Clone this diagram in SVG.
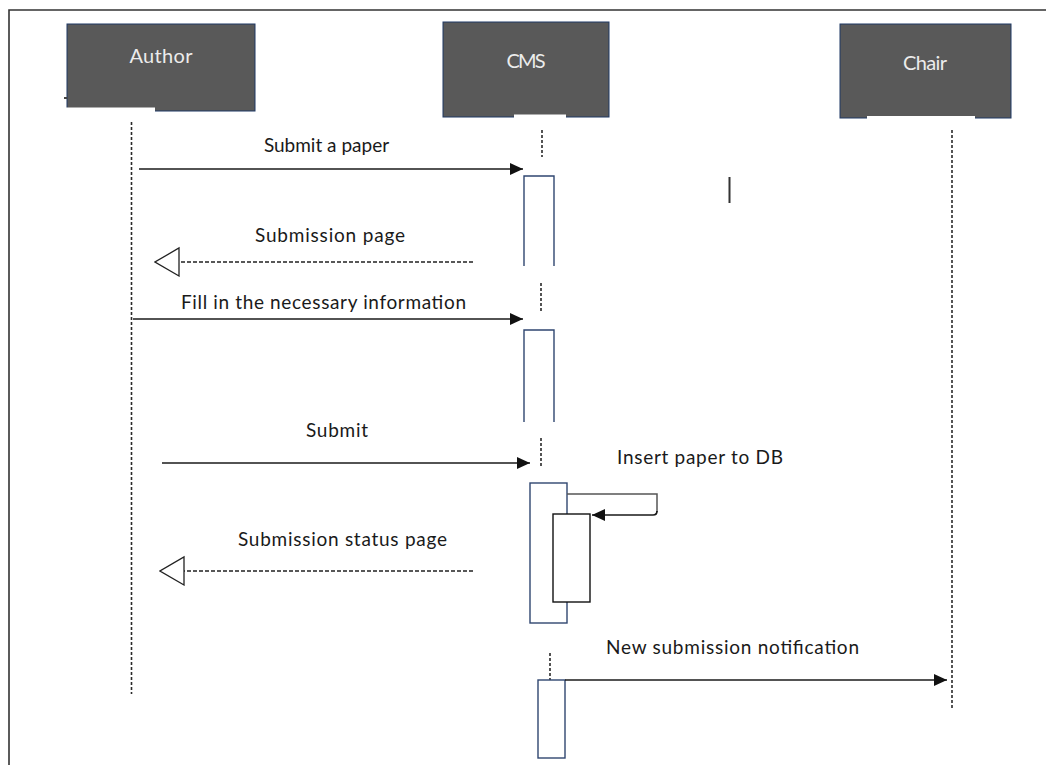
<svg xmlns="http://www.w3.org/2000/svg" width="1046" height="765" viewBox="0 0 1046 765">
  <style>
    .frame{fill:none;stroke:#333;stroke-width:1.6}
    .head{fill:#595959;stroke:#1f3864;stroke-width:1}
    .gap{fill:#fff}
    .htext{font-family:Lato,"Liberation Sans",sans-serif;font-size:20px;fill:#ececec;text-anchor:middle}
    .lbl{font-family:Lato,"Liberation Sans",sans-serif;font-size:19px;fill:#1a1a1a}
    .life{stroke:#2a2a2a;stroke-width:1.6;stroke-dasharray:3 2;fill:none}
    .act{fill:#fff;stroke:#2f4670;stroke-width:1.4}
    .act2{fill:#fff;stroke:#111;stroke-width:1.4}
    .msg{stroke:#1a1a1a;stroke-width:1.7;fill:none;marker-end:url(#solid)}
    .ret{stroke:#222;stroke-width:1.4;stroke-dasharray:4 2;fill:none;marker-end:url(#open)}
  </style>
  <defs>
    <marker id="solid" markerUnits="userSpaceOnUse" markerWidth="13" markerHeight="12" refX="13" refY="6" orient="auto">
      <path d="M0,0 L13,6 L0,12 z" fill="#111"/>
    </marker>
    <marker id="open" markerUnits="userSpaceOnUse" markerWidth="26" markerHeight="31" refX="25" refY="15" orient="auto">
      <path d="M1,1 L25,15 L1,29 z" fill="#fff" stroke="#222" stroke-width="1.3"/>
    </marker>
  </defs>

  <rect width="1046" height="765" fill="#fff"/>
  <!-- outer frame: left and top edges -->
  <path class="frame" d="M9,765 V10 H1046"/>

  <!-- participants -->
  <g id="author">
    <rect class="head" x="67" y="24" width="188" height="87"/>
    <rect class="gap" x="66" y="107.5" width="89" height="5"/>
    <rect x="64" y="97" width="3" height="2" fill="#444"/>
    <text class="htext" x="161" y="63" textLength="63">Author</text>
  </g>
  <g id="cms">
    <rect class="head" x="443" y="22" width="166" height="95"/>
    <rect class="gap" x="514" y="114.5" width="52" height="4"/>
    <text class="htext" x="526" y="68" textLength="39">CMS</text>
  </g>
  <g id="chair">
    <rect class="head" x="840" y="24" width="171" height="94"/>
    <rect class="gap" x="867" y="116" width="108" height="4"/>
    <text class="htext" x="925" y="70" textLength="44">Chair</text>
  </g>

  <!-- lifelines -->
  <g id="lifelines">
    <line class="life" x1="131.5" y1="122" x2="131.5" y2="694"/>
    <line class="life" x1="542" y1="130" x2="542" y2="157"/>
    <line class="life" x1="541" y1="283" x2="541" y2="312"/>
    <line class="life" x1="541" y1="438" x2="541" y2="466"/>
    <line class="life" x1="550" y1="653" x2="550" y2="680"/>
    <line class="life" x1="952" y1="130" x2="952" y2="709"/>
  </g>

  <!-- activation bars -->
  <g id="activations">
    <path class="act" d="M524,266 V176 H554 V266" style="fill:none"/>
    <path class="act" d="M524,422 V330 H554 V422" style="fill:none"/>
    <rect class="act" x="530" y="483" width="37" height="140"/>
    <rect class="act2" x="553" y="514" width="37" height="88"/>
    <rect class="act" x="538" y="680" width="27" height="78"/>
  </g>

  <!-- messages -->
  <g id="connectors">
    <line class="msg" x1="139" y1="169" x2="523" y2="169"/>
    <line class="ret" x1="473" y1="262" x2="155" y2="262"/>
    <line class="msg" x1="133" y1="319" x2="523" y2="319"/>
    <line class="msg" x1="162" y1="463" x2="530" y2="463"/>
    <path d="M567,494 H657 V512" fill="none" stroke="#555" stroke-width="1.5"/>
    <path class="msg" d="M657,511 Q657,515 653,515 H592"/>
    <line class="ret" x1="473" y1="571" x2="160" y2="571"/>
    <line class="msg" x1="565" y1="680" x2="947" y2="680"/>
  </g>

  <!-- message labels -->
  <g id="labels">
    <text class="lbl" x="326.5" y="152" text-anchor="middle">Submit a paper</text>
    <text class="lbl" x="255" y="242" textLength="150">Submission page</text>
    <text class="lbl" x="181" y="309" textLength="285">Fill in the necessary information</text>
    <text class="lbl" x="306" y="437" textLength="62">Submit</text>
    <text class="lbl" x="617" y="464" textLength="166">Insert paper to DB</text>
    <text class="lbl" x="238" y="546" textLength="209">Submission status page</text>
    <text class="lbl" x="606" y="654" textLength="253">New submission notification</text>
  </g>

  <!-- stray mark -->
  <rect x="728.5" y="177" width="2" height="26" fill="#333"/>
</svg>
